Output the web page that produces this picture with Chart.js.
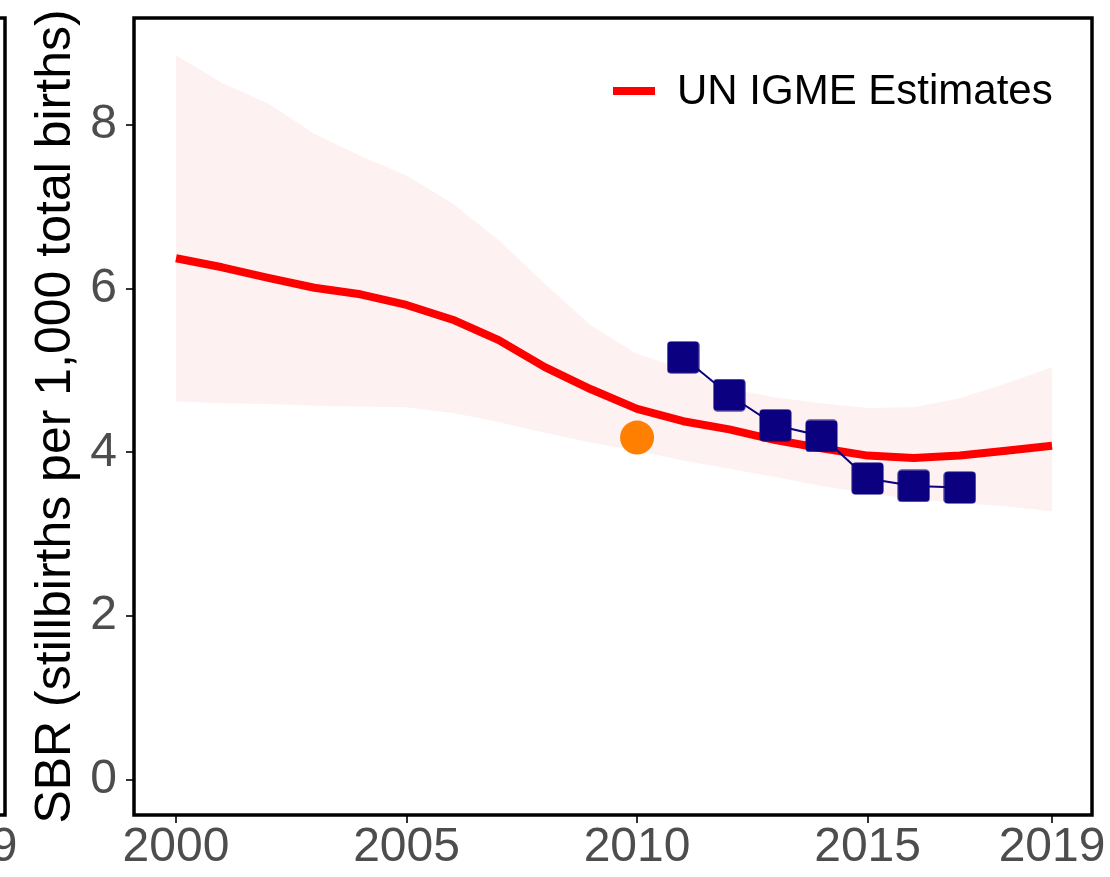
<!DOCTYPE html>
<html>
<head>
<meta charset="utf-8">
<script src="https://cdn.jsdelivr.net/npm/chart.js@4/dist/chart.umd.min.js"></script>
<style>
html,body{margin:0;padding:0;background:#fff;}
#wrap{width:1110px;height:877px;position:relative;}
</style>
</head>
<body>
<div id="wrap"><canvas id="c" width="1110" height="877"></canvas></div>
<script>
// ---- data ----
const years = [2000,2001,2002,2003,2004,2005,2006,2007,2008,2009,2010,2011,2012,2013,2014,2015,2016,2017,2018,2019];
const estimate = [6.37,6.26,6.13,6.01,5.93,5.80,5.62,5.37,5.04,4.77,4.53,4.38,4.28,4.15,4.05,3.96,3.93,3.96,4.02,4.08];
const upperBound = [8.85,8.51,8.26,7.89,7.62,7.38,7.04,6.59,6.06,5.55,5.20,5.02,4.78,4.67,4.60,4.54,4.55,4.66,4.84,5.04];
const lowerBound = [4.62,4.60,4.59,4.57,4.56,4.55,4.48,4.37,4.24,4.12,4.02,3.90,3.80,3.70,3.59,3.50,3.43,3.38,3.34,3.28];
const surveyYears = [2011,2012,2013,2014,2015,2016,2017];
const surveyValues = [5.16,4.70,4.33,4.20,3.68,3.59,3.57];
const otherYears = [2010];
const otherValues = [4.18];
const xTickValues = [2000,2005,2010,2015,2019];
const yTickValues = [0,2,4,6,8];
const legendLabel = 'UN IGME Estimates';
const yTitle = 'SBR (stillbirths per 1,000 total births)';

const FONT = "'Liberation Sans', Arial, sans-serif";
const pts = (xs, ys) => xs.map((x, i) => ({x: x, y: ys[i]}));

// rounded square marker
const sq = document.createElement('canvas');
sq.width = 33; sq.height = 33;
(function(){
  const g = sq.getContext('2d');
  g.fillStyle = '#0b0080';
  g.beginPath();
  g.roundRect(0.5, 0.5, 32, 32, 4);
  g.fill();
})();

const framePlugin = {
  id: 'frame',
  afterDatasetsDraw(chart) {
    const {ctx, chartArea: a} = chart;
    ctx.save();
    ctx.strokeStyle = '#000';
    ctx.lineWidth = 3.5;
    ctx.strokeRect(a.left, a.top, a.right - a.left, a.bottom - a.top);
    // neighbouring panel edge on the left
    ctx.beginPath();
    ctx.moveTo(-5, a.top);
    ctx.lineTo(5, a.top);
    ctx.lineTo(5, a.bottom);
    ctx.lineTo(-5, a.bottom);
    ctx.stroke();
    // neighbouring panel's last tick label
    ctx.fillStyle = '#4D4D4D';
    ctx.font = '48px ' + FONT;
    ctx.textAlign = 'center';
    ctx.textBaseline = 'middle';
    ctx.fillText('2019', -36, 848);
    ctx.restore();
  },
  afterDraw(chart) {
    const {ctx} = chart;
    ctx.save();
    ctx.fillStyle = '#FF0000';
    ctx.fillRect(613, 87, 42, 8);
    ctx.fillStyle = '#000';
    ctx.font = '42px ' + FONT;
    ctx.textAlign = 'left';
    ctx.textBaseline = 'middle';
    ctx.fillText(legendLabel, 677, 92);
    ctx.restore();
  }
};

function zeroPad(s) { s.paddingTop = 0; s.paddingBottom = 0; s.paddingLeft = 0; s.paddingRight = 0; }

new Chart(document.getElementById('c'), {
  type: 'line',
  data: {
    datasets: [
      {
        label: 'Other',
        data: pts(otherYears, otherValues),
        showLine: false,
        pointRadius: 17,
        pointHoverRadius: 17,
        pointBackgroundColor: '#FF7F00',
        pointBorderWidth: 0,
        borderColor: '#FF7F00'
      },
      {
        label: 'Survey',
        data: pts(surveyYears, surveyValues),
        borderColor: '#0b0080',
        borderWidth: 2,
        pointStyle: sq,
        pointRadius: 16,
        tension: 0
      },
      {
        label: legendLabel,
        data: pts(years, estimate),
        borderColor: '#FF0000',
        backgroundColor: '#FF0000',
        borderWidth: 8,
        pointRadius: 0,
        tension: 0,
        borderJoinStyle: 'round'
      },
      {
        label: 'lower',
        data: pts(years, lowerBound),
        borderWidth: 0,
        pointRadius: 0,
        fill: false,
        tension: 0
      },
      {
        label: 'upper',
        data: pts(years, upperBound),
        borderWidth: 0,
        pointRadius: 0,
        fill: 3,
        backgroundColor: 'rgba(250,200,200,0.25)',
        tension: 0
      }
    ]
  },
  options: {
    responsive: false,
    animation: false,
    devicePixelRatio: 1,
    layout: {padding: {left: 0, right: 18, top: 17, bottom: 0}},
    plugins: {
      legend: {display: false},
      tooltip: {enabled: false},
      filler: {drawTime: 'beforeDatasetsDraw'}
    },
    scales: {
      x: {
        type: 'linear',
        min: 1999.089,
        max: 2019.867,
        afterBuildTicks(s) { s.ticks = xTickValues.map(v => ({value: v})); },
        afterFit(s) { s.height = 62; zeroPad(s); },
        ticks: {
          autoSkip: false, maxRotation: 0, minRotation: 0,
          color: '#4D4D4D',
          font: {family: FONT, size: 48, lineHeight: 1},
          padding: 1,
          callback: v => String(v)
        },
        grid: {drawOnChartArea: false, drawTicks: true, tickLength: 8, tickColor: '#333333', tickWidth: 2, lineWidth: 2},
        border: {display: false}
      },
      y: {
        type: 'linear',
        min: -0.43,
        max: 9.305,
        afterBuildTicks(s) { s.ticks = yTickValues.map(v => ({value: v})); },
        afterFit(s) { s.width = 134; zeroPad(s); },
        ticks: {
          color: '#4D4D4D',
          font: {family: FONT, size: 48, lineHeight: 1},
          padding: 9,
          callback: v => String(v)
        },
        title: {
          display: true,
          text: yTitle,
          color: '#000',
          font: {family: FONT, size: 50, lineHeight: 1.2},
          padding: {top: 26, bottom: 0}
        },
        grid: {drawOnChartArea: false, drawTicks: true, tickLength: 8, tickColor: '#333333', tickWidth: 2, lineWidth: 2},
        border: {display: false}
      }
    }
  },
  plugins: [framePlugin]
});
</script>
</body>
</html>
